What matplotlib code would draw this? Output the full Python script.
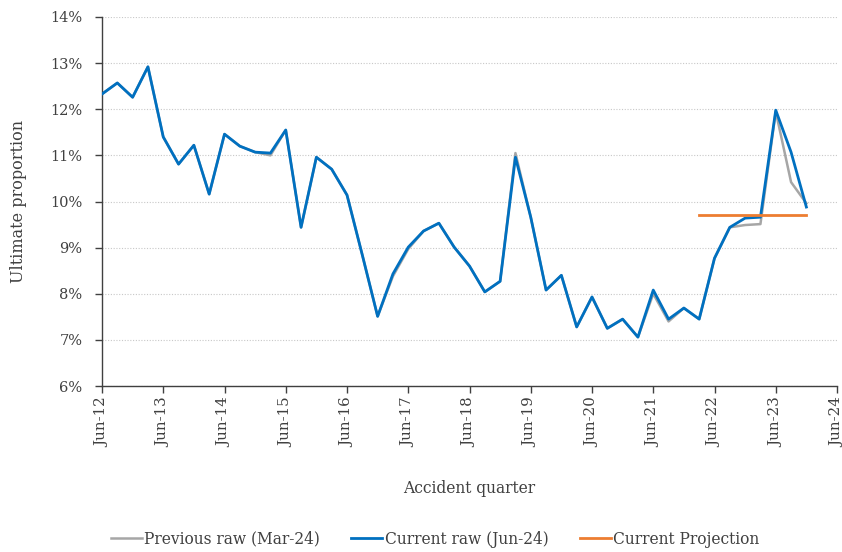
import matplotlib
matplotlib.use("Agg")
import matplotlib.pyplot as plt
import numpy as np

# Accident quarters: index 0 = Jun-12, quarterly steps
tick_labels = ["Jun-12", "Jun-13", "Jun-14", "Jun-15", "Jun-16", "Jun-17", "Jun-18",
               "Jun-19", "Jun-20", "Jun-21", "Jun-22", "Jun-23", "Jun-24"]

current_raw = [12.33, 12.57, 12.26, 12.92, 11.40, 10.81, 11.22, 10.16,
               11.46, 11.20, 11.07, 11.05, 11.55, 9.44, 10.96, 10.70,
               10.14, 8.84, 7.51, 8.43, 9.01, 9.36, 9.53, 9.01,
               8.60, 8.04, 8.27, 10.96, 9.66, 8.08, 8.40, 7.28,
               7.93, 7.25, 7.45, 7.06, 8.08, 7.45, 7.69, 7.45,
               8.77, 9.44, 9.64, 9.66, 11.98, 11.07, 9.88]

previous_raw = [12.33, 12.57, 12.26, 12.92, 11.40, 10.81, 11.22, 10.16,
                11.46, 11.20, 11.07, 11.00, 11.55, 9.44, 10.96, 10.70,
                10.14, 8.84, 7.51, 8.38, 8.97, 9.36, 9.53, 9.01,
                8.60, 8.04, 8.27, 11.05, 9.66, 8.08, 8.40, 7.28,
                7.93, 7.25, 7.45, 7.06, 8.00, 7.40, 7.69, 7.45,
                8.77, 9.44, 9.49, 9.51, 11.95, 10.42, 9.96]

projection_start = 39
projection_end = 46
projection_value = 9.71

blue = "#0070C0"
gray = "#A6A6A6"
orange = "#ED7D31"
text_color = "#404040"

plt.rcParams['font.family'] = ['DejaVu Serif']

fig = plt.figure(figsize=(8.42, 5.52), dpi=100)
ax = fig.add_axes([102/842, 1-386/552, (837-102)/842, (386-17)/552])

x_prev = np.arange(len(previous_raw))
x_cur = np.arange(len(current_raw))
x_proj = np.arange(projection_start, projection_end + 1)

ax.plot(x_prev, previous_raw, color=gray, lw=1.8, label="Previous raw (Mar-24)", zorder=2)
ax.plot(x_cur, current_raw, color=blue, lw=2.0, label="Current raw (Jun-24)", zorder=3)
ax.plot(x_proj, [projection_value] * len(x_proj), color=orange, lw=2.0,
        label="Current Projection", zorder=4)

ax.set_xlim(0, 48)
ax.set_ylim(6, 14)
ax.set_xticks(np.arange(0, 49, 4))
ax.set_xticklabels(tick_labels, rotation=90, fontsize=10.8, color=text_color)
ax.set_yticks(np.arange(6, 15, 1))
ax.set_yticklabels([f"{v}%" for v in range(6, 15)], fontsize=10.5, color=text_color)

ax.grid(axis="y", linestyle=(0, (1, 1.5)), color="#C8C8C8", lw=0.8)
ax.set_axisbelow(True)
for s in ["top", "right"]:
    ax.spines[s].set_visible(False)
for s in ["left", "bottom"]:
    ax.spines[s].set_color(text_color)
    ax.spines[s].set_linewidth(1.0)
ax.tick_params(axis="both", direction="out", length=5, color=text_color, width=1.0)
ax.tick_params(axis="x", pad=3)
ax.tick_params(axis="y", pad=9)

ax.set_ylabel("Ultimate proportion", fontsize=11.5, color=text_color)
ax.yaxis.set_label_coords((27 - 102) / 735, 0.5)
ax.set_xlabel("Accident quarter", fontsize=11.2, color=text_color)
ax.xaxis.set_label_coords(0.5, -(480 - 386) / 369)

leg = fig.legend(loc="center", bbox_to_anchor=(435/842, 1-539/552), ncol=3, frameon=False,
                 fontsize=11.2, handlelength=2.0, handletextpad=0.15, columnspacing=2.0)
for t in leg.get_texts():
    t.set_color(text_color)

fig.savefig("out.png", dpi=100)
